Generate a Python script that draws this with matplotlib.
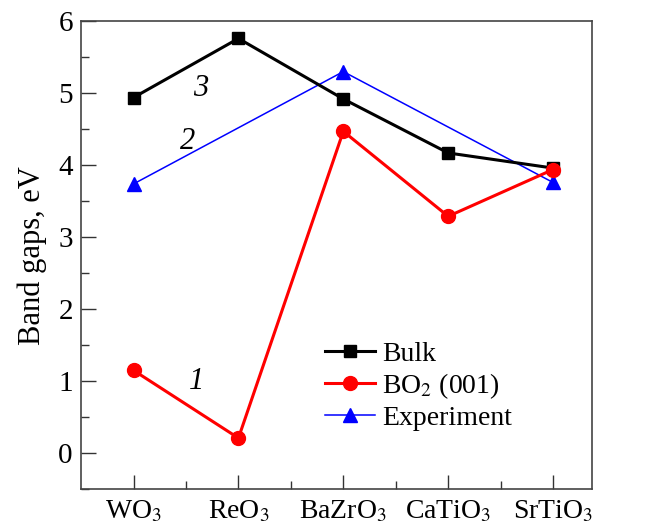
import matplotlib
matplotlib.use('Agg')
import matplotlib.pyplot as plt
import numpy as np

plt.rcParams['font.family'] = ['Liberation Serif', 'DejaVu Serif']
plt.rcParams['mathtext.fontset'] = 'stix'

compounds = ['WO$_3$', 'ReO$_3$', 'BaZrO$_3$', 'CaTiO$_3$', 'SrTiO$_3$']
bulk = [4.94, 5.76, 4.92, 4.17, 3.96]
bo2_001 = [1.15, 0.21, 4.47, 3.29, 3.94]
# experiment has no values for ReO3 and CaTiO3
experiment = [3.74, np.nan, 5.30, np.nan, 3.76]

x = np.arange(len(compounds))
exp = np.array(experiment)
ok = ~np.isnan(exp)

fig = plt.figure(figsize=(6.65, 5.3), dpi=100)
ax = fig.add_axes([0.122, 0.077, 0.768, 0.883])

ax.plot(x, bulk, color='black', lw=2.2, marker='s', ms=8, label='Bulk', zorder=3)
ax.plot(x, bo2_001, color='red', lw=2.2, marker='o', ms=10, label='BO$_2$ (001)', zorder=3)
ax.plot(x[ok], exp[ok], color='blue', lw=1.1, marker='^', ms=10, label='Experiment', zorder=2)

ax.text(0.64, 5.07, '3', fontsize=22, style='italic', ha='center', va='center')
ax.text(0.52, 4.33, '2', fontsize=22, style='italic', ha='center', va='center')
ax.text(0.60, 1.0, '1', fontsize=22, style='italic', ha='center', va='center')

ax.set_xlim(-0.5, 4.37)
ax.set_ylim(-0.5, 6)
ax.set_xticks(x)
ax.set_xticklabels(compounds)
ax.set_xticks(x[:-1] + 0.5, minor=True)
ax.set_yticks(np.arange(0, 7, 1))
ax.set_yticks(np.arange(-0.5, 6, 0.5), minor=True)
ax.tick_params(which='both', direction='in', labelsize=20, width=1, color='#333333')
ax.tick_params(axis='y', labelsize=21)
ax.tick_params(which='major', length=11, pad=6)
ax.tick_params(which='minor', length=6)
ax.tick_params(axis='x', which='major', length=10, pad=7)
for s in ax.spines.values():
    s.set_color('#444444')
    s.set_linewidth(1.2)

ax.set_ylabel('Band gaps, eV', fontsize=22, labelpad=8)

ax.legend(loc='upper left', bbox_to_anchor=(0.44, 0.357), frameon=False, fontsize=20,
          handlelength=1.8, handletextpad=0.25, labelspacing=0.15, borderpad=0.2)

fig.savefig('out.png', dpi=100)
